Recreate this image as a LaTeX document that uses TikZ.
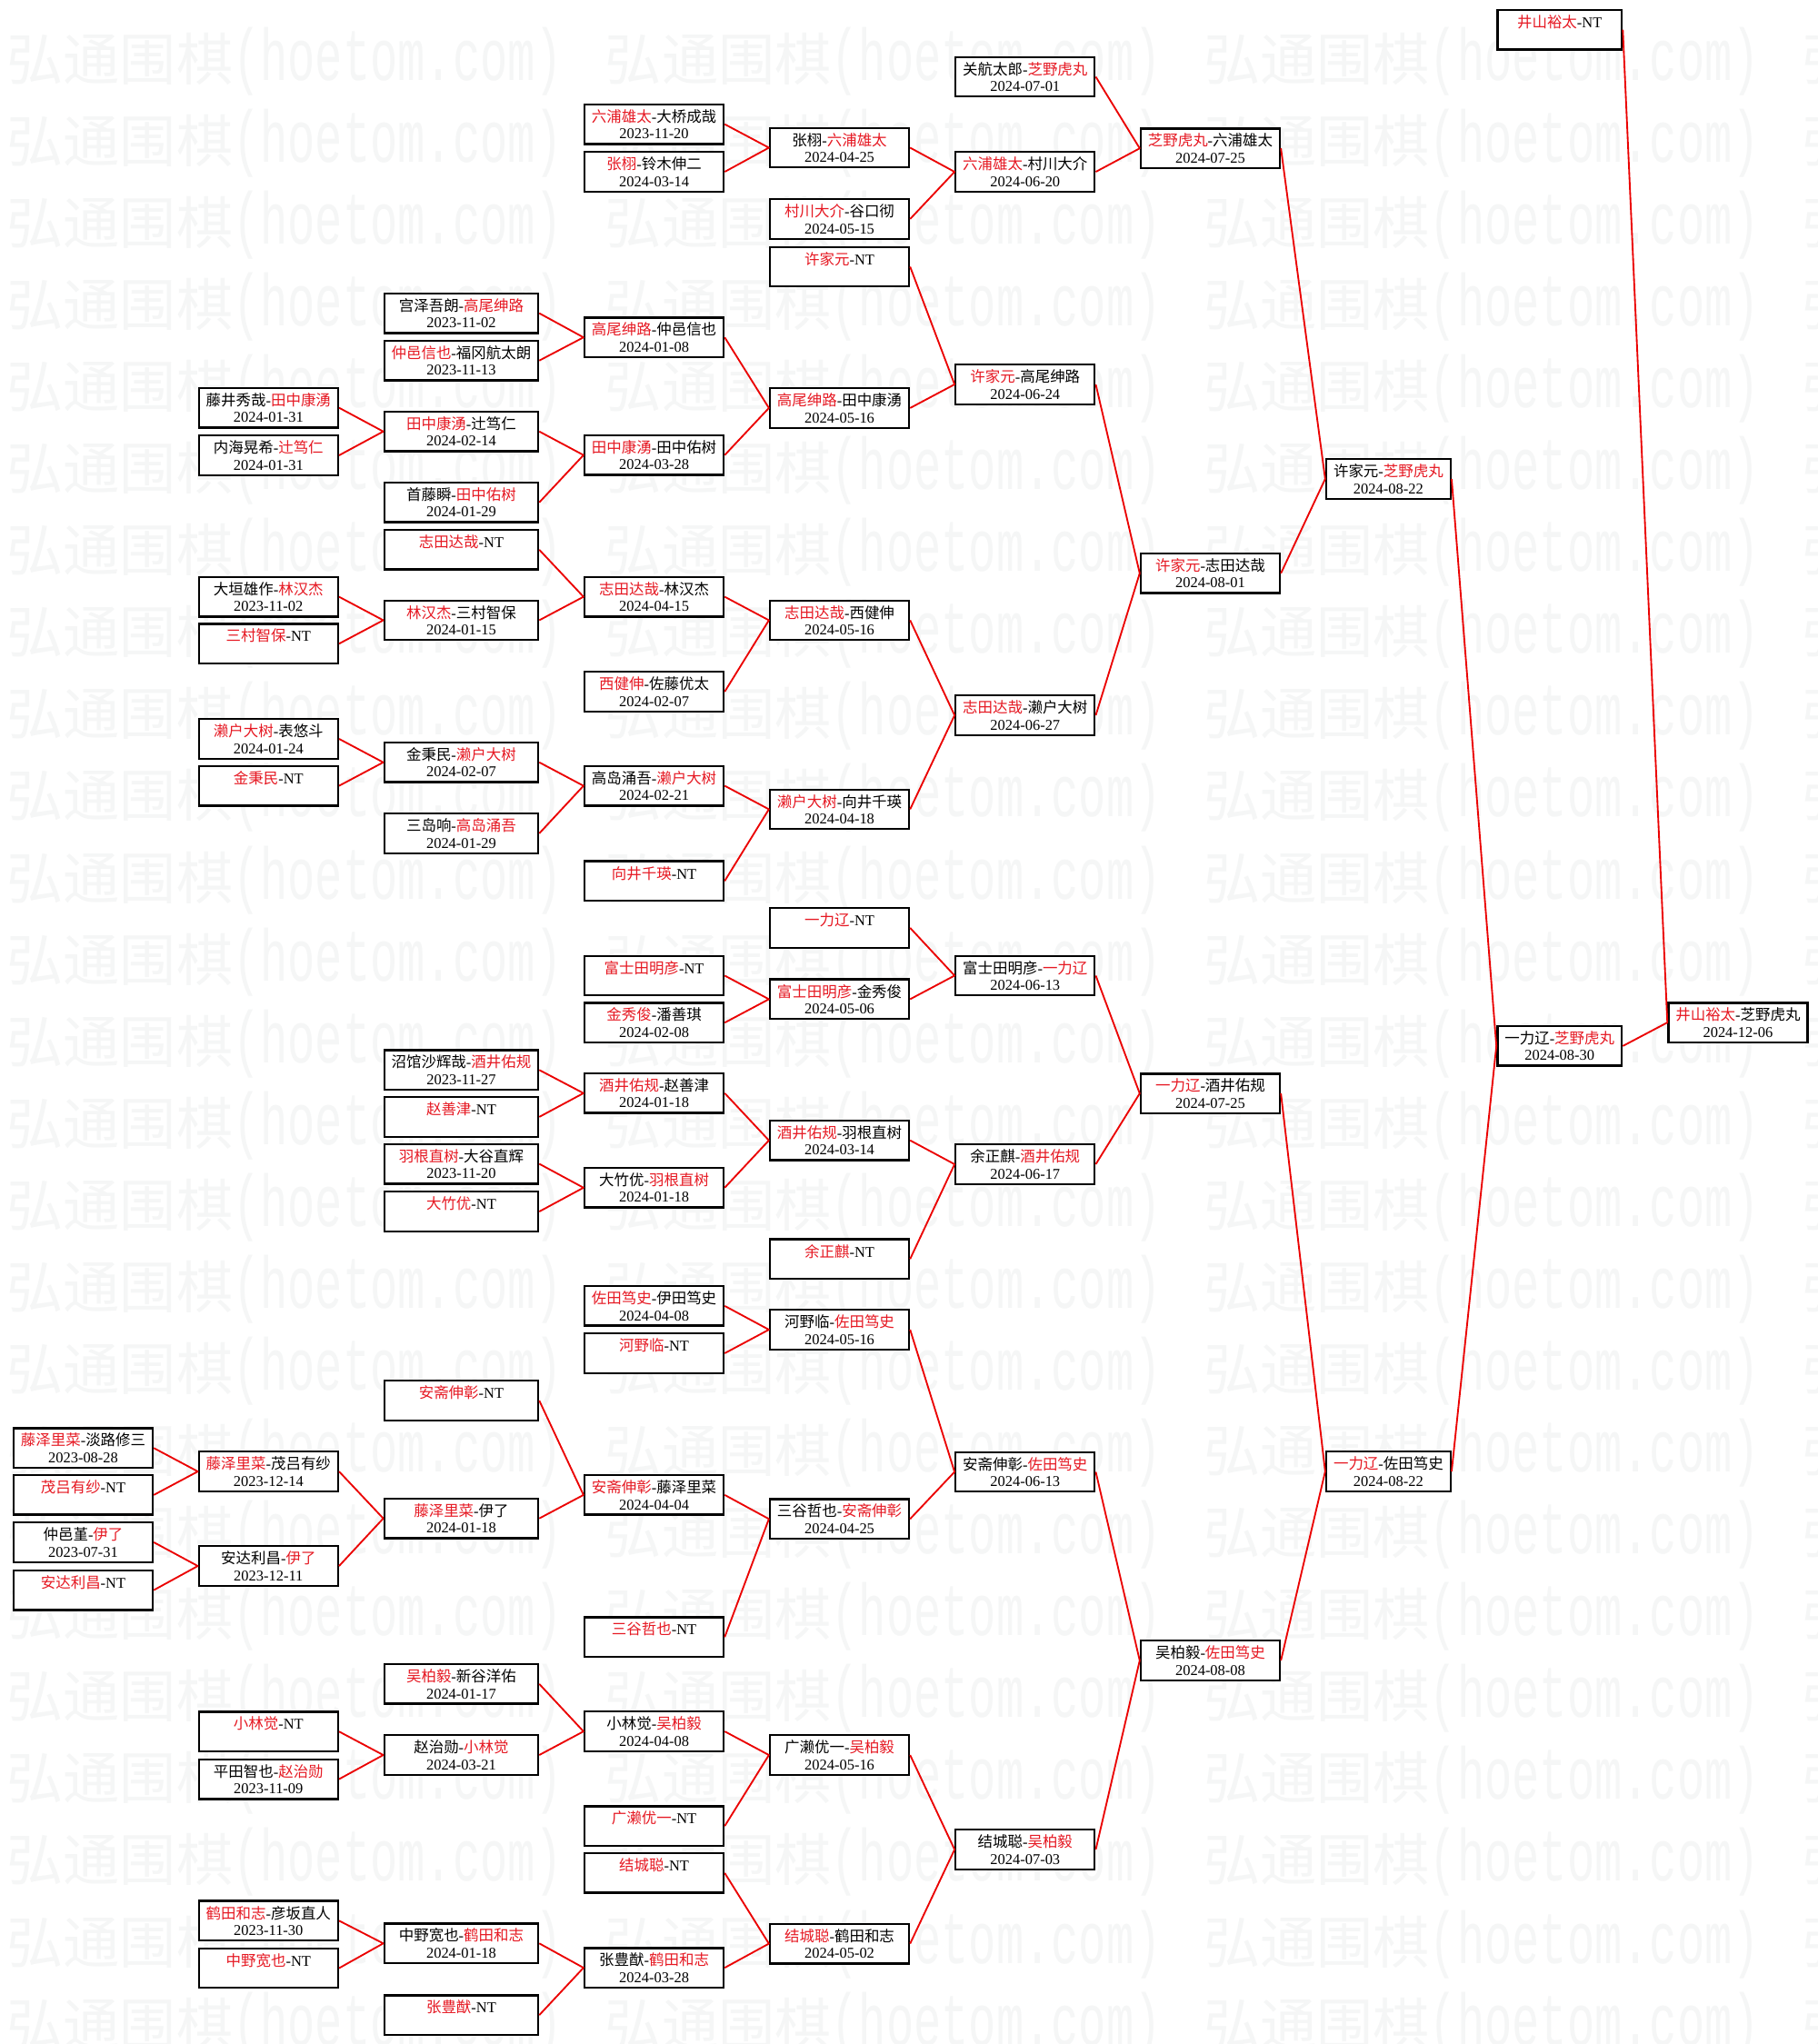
\documentclass[tikz,border=0pt]{standalone}
\usepackage{fontspec}
\usepackage{graphicx}
\setmainfont{Liberation Serif}
\newfontfamily\cjk{Noto Sans CJK SC}
\newfontfamily\wmlat{Liberation Mono}
\definecolor{winred}{RGB}{230,25,35}
\definecolor{linkred}{RGB}{235,0,0}
\definecolor{wmgray}{RGB}{245,246,246}
% first line of a box: winner in red
\newcommand\lw[2]{\textcolor{winred}{\cjk #1}-{\cjk #2}}
\newcommand\rw[2]{{\cjk #1}-\textcolor{winred}{\cjk #2}}
\newcommand\nt[1]{\textcolor{winred}{\cjk #1}-NT}
\tikzset{
  game/.style={draw=black,line width=1.4pt,fill=white,rectangle,inner sep=0pt,
    minimum width=32mm,text width=32mm,minimum height=9.1mm,align=center,
    font=\fontsize{9.8}{11}\selectfont},
  widegame/.style={game,minimum width=35.4mm,text width=35.4mm},
  slimgame/.style={game,minimum width=28.6mm,text width=28.6mm},
  link/.style={draw=linkred,line width=1.1pt,line join=round},
  wmark/.style={anchor=west,text=wmgray,inner sep=0pt,font=\cjk\fontsize{37}{37}\selectfont}
}
\begin{document}
\begin{tikzpicture}[x=0.3mm,y=-0.3mm]
    \fill[white] (0,0) rectangle (1394,1568);
    \useasboundingbox (0,0) rectangle (1394,1568);
    \begin{scope}
    \clip (0,0) rectangle (1394,1568);
    \foreach \j in {0,...,24} \foreach \i in {0,...,3}
      \node[wmark] (wm\i-\j) at ({5+459*\i},{47+62.8*\j}) {弘通围棋{\wmlat\fontsize{30}{30}\selectfont\scalebox{1}[1.6]{(hoetom.com)}}};
    \end{scope}
    % column A
    \node[game] (A1) at (63.8,1110.8) {\lw{藤泽里菜}{淡路修三}\\2023-08-28};
    \node[game] (A2) at (63.8,1146.8) {\nt{茂吕有纱}\\~};
    \node[game] (A3) at (63.8,1183.1) {\rw{仲邑堇}{伊了}\\2023-07-31};
    \node[game] (A4) at (63.8,1219.8) {\nt{安达利昌}\\~};
    % column B
    \node[game] (B1) at (205.9,312.8) {\rw{藤井秀哉}{田中康湧}\\2024-01-31};
    \node[game] (B2) at (205.9,349.3) {\rw{内海晃希}{辻笃仁}\\2024-01-31};
    \node[game] (B3) at (205.9,457.8) {\rw{大垣雄作}{林汉杰}\\2023-11-02};
    \node[game] (B4) at (205.9,493.8) {\nt{三村智保}\\~};
    \node[game] (B5) at (205.9,566.8) {\lw{濑户大树}{表悠斗}\\2024-01-24};
    \node[game] (B6) at (205.9,602.8) {\nt{金秉民}\\~};
    \node[game] (B7) at (205.9,1128.8) {\lw{藤泽里菜}{茂吕有纱}\\2023-12-14};
    \node[game] (B8) at (205.9,1201.3) {\rw{安达利昌}{伊了}\\2023-12-11};
    \node[game] (B9) at (205.9,1328.3) {\nt{小林觉}\\~};
    \node[game] (B10) at (205.9,1364.8) {\rw{平田智也}{赵治勋}\\2023-11-09};
    \node[game] (B11) at (205.9,1473.4) {\lw{鹤田和志}{彦坂直人}\\2023-11-30};
    \node[game] (B12) at (205.9,1509.8) {\nt{中野宽也}\\~};
    % column C
    \node[widegame] (C1) at (353.8,240.3) {\rw{宫泽吾朗}{高尾绅路}\\2023-11-02};
    \node[widegame] (C2) at (353.8,276.6) {\lw{仲邑信也}{福冈航太朗}\\2023-11-13};
    \node[widegame] (C3) at (353.8,331) {\lw{田中康湧}{辻笃仁}\\2024-02-14};
    \node[widegame] (C4) at (353.8,385.4) {\rw{首藤瞬}{田中佑树}\\2024-01-29};
    \node[widegame] (C5) at (353.8,421.7) {\nt{志田达哉}\\~};
    \node[widegame] (C6) at (353.8,475.8) {\lw{林汉杰}{三村智保}\\2024-01-15};
    \node[widegame] (C7) at (353.8,584.8) {\rw{金秉民}{濑户大树}\\2024-02-07};
    \node[widegame] (C8) at (353.8,639.3) {\rw{三岛响}{高岛涌吾}\\2024-01-29};
    \node[widegame] (C9) at (353.8,820.8) {\rw{沼馆沙辉哉}{酒井佑规}\\2023-11-27};
    \node[widegame] (C10) at (353.8,856.8) {\nt{赵善津}\\~};
    \node[widegame] (C11) at (353.8,892.8) {\lw{羽根直树}{大谷直辉}\\2023-11-20};
    \node[widegame] (C12) at (353.8,929.4) {\nt{大竹优}\\~};
    \node[widegame] (C13) at (353.8,1074.4) {\nt{安斋伸彰}\\~};
    \node[widegame] (C14) at (353.8,1164.8) {\lw{藤泽里菜}{伊了}\\2024-01-18};
    \node[widegame] (C15) at (353.8,1291.8) {\lw{吴柏毅}{新谷洋佑}\\2024-01-17};
    \node[widegame] (C16) at (353.8,1346.3) {\rw{赵治勋}{小林觉}\\2024-03-21};
    \node[widegame] (C17) at (353.8,1490.8) {\rw{中野宽也}{鹤田和志}\\2024-01-18};
    \node[widegame] (C18) at (353.8,1545.8) {\nt{张豊猷}\\~};
    % column D
    \node[game] (D1) at (501.7,95.3) {\lw{六浦雄太}{大桥成哉}\\2023-11-20};
    \node[game] (D2) at (501.7,131.8) {\lw{张栩}{铃木伸二}\\2024-03-14};
    \node[game] (D3) at (501.7,258.8) {\lw{高尾绅路}{仲邑信也}\\2024-01-08};
    \node[game] (D4) at (501.7,349.1) {\lw{田中康湧}{田中佑树}\\2024-03-28};
    \node[game] (D5) at (501.7,457.8) {\lw{志田达哉}{林汉杰}\\2024-04-15};
    \node[game] (D6) at (501.7,530.6) {\lw{西健伸}{佐藤优太}\\2024-02-07};
    \node[game] (D7) at (501.7,602.8) {\rw{高岛涌吾}{濑户大树}\\2024-02-21};
    \node[game] (D8) at (501.7,675.8) {\nt{向井千瑛}\\~};
    \node[game] (D9) at (501.7,748.4) {\nt{富士田明彦}\\~};
    \node[game] (D10) at (501.7,784.5) {\lw{金秀俊}{潘善琪}\\2024-02-08};
    \node[game] (D11) at (501.7,838.6) {\lw{酒井佑规}{赵善津}\\2024-01-18};
    \node[game] (D12) at (501.7,911.1) {\rw{大竹优}{羽根直树}\\2024-01-18};
    \node[game] (D13) at (501.7,1001.8) {\lw{佐田笃史}{伊田笃史}\\2024-04-08};
    \node[game] (D14) at (501.7,1038.1) {\nt{河野临}\\~};
    \node[game] (D15) at (501.7,1146.8) {\lw{安斋伸彰}{藤泽里菜}\\2024-04-04};
    \node[game] (D16) at (501.7,1255.8) {\nt{三谷哲也}\\~};
    \node[game] (D17) at (501.7,1328.2) {\rw{小林觉}{吴柏毅}\\2024-04-08};
    \node[game] (D18) at (501.7,1400.8) {\nt{广濑优一}\\~};
    \node[game] (D19) at (501.7,1436.8) {\nt{结城聪}\\~};
    \node[game] (D20) at (501.7,1509.5) {\rw{张豊猷}{鹤田和志}\\2024-03-28};
    % column E
    \node[game] (E1) at (643.9,113.3) {\rw{张栩}{六浦雄太}\\2024-04-25};
    \node[game] (E2) at (643.9,168) {\lw{村川大介}{谷口彻}\\2024-05-15};
    \node[game] (E3) at (643.9,204.6) {\nt{许家元}\\~};
    \node[game] (E4) at (643.9,313) {\lw{高尾绅路}{田中康湧}\\2024-05-16};
    \node[game] (E5) at (643.9,475.8) {\lw{志田达哉}{西健伸}\\2024-05-16};
    \node[game] (E6) at (643.9,620.8) {\lw{濑户大树}{向井千瑛}\\2024-04-18};
    \node[game] (E7) at (643.9,711.8) {\nt{一力辽}\\~};
    \node[game] (E8) at (643.9,766.5) {\lw{富士田明彦}{金秀俊}\\2024-05-06};
    \node[game] (E9) at (643.9,874.8) {\lw{酒井佑规}{羽根直树}\\2024-03-14};
    \node[game] (E10) at (643.9,965.8) {\nt{余正麒}\\~};
    \node[game] (E11) at (643.9,1020) {\rw{河野临}{佐田笃史}\\2024-05-16};
    \node[game] (E12) at (643.9,1165.2) {\rw{三谷哲也}{安斋伸彰}\\2024-04-25};
    \node[game] (E13) at (643.9,1346.3) {\rw{广濑优一}{吴柏毅}\\2024-05-16};
    \node[game] (E14) at (643.9,1491) {\lw{结城聪}{鹤田和志}\\2024-05-02};
    % column F
    \node[game] (F1) at (786.3,58.9) {\rw{关航太郎}{芝野虎丸}\\2024-07-01};
    \node[game] (F2) at (786.3,131.8) {\lw{六浦雄太}{村川大介}\\2024-06-20};
    \node[game] (F3) at (786.3,294.9) {\lw{许家元}{高尾绅路}\\2024-06-24};
    \node[game] (F4) at (786.3,548.7) {\lw{志田达哉}{濑户大树}\\2024-06-27};
    \node[game] (F5) at (786.3,748.4) {\rw{富士田明彦}{一力辽}\\2024-06-13};
    \node[game] (F6) at (786.3,893.1) {\rw{余正麒}{酒井佑规}\\2024-06-17};
    \node[game] (F7) at (786.3,1129.1) {\rw{安斋伸彰}{佐田笃史}\\2024-06-13};
    \node[game] (F8) at (786.3,1418.8) {\rw{结城聪}{吴柏毅}\\2024-07-03};
    % column G
    \node[game] (G1) at (928.3,113.8) {\lw{芝野虎丸}{六浦雄太}\\2024-07-25};
    \node[game] (G2) at (928.3,439.8) {\lw{许家元}{志田达哉}\\2024-08-01};
    \node[game] (G3) at (928.3,838.8) {\lw{一力辽}{酒井佑规}\\2024-07-25};
    \node[game] (G4) at (928.3,1273.8) {\rw{吴柏毅}{佐田笃史}\\2024-08-08};
    % columns H, I, J
    \node[slimgame] (H1) at (1064.9,367.4) {\rw{许家元}{芝野虎丸}\\2024-08-22};
    \node[slimgame] (H2) at (1064.9,1128.8) {\lw{一力辽}{佐田笃史}\\2024-08-22};
    \node[slimgame] (I1) at (1196.2,22.8) {\nt{井山裕太}\\~};
    \node[slimgame] (I2) at (1196.2,802.4) {\rw{一力辽}{芝野虎丸}\\2024-08-30};
    \node[game] (J1) at (1333,784.4) {\lw{井山裕太}{芝野虎丸}\\2024-12-06};
    % links
    \draw[link] (A1.east) -- (B7.west) -- (A2.east);
    \draw[link] (A3.east) -- (B8.west) -- (A4.east);
    \draw[link] (B1.east) -- (C3.west) -- (B2.east);
    \draw[link] (B3.east) -- (C6.west) -- (B4.east);
    \draw[link] (B5.east) -- (C7.west) -- (B6.east);
    \draw[link] (B7.east) -- (C14.west) -- (B8.east);
    \draw[link] (B9.east) -- (C16.west) -- (B10.east);
    \draw[link] (B11.east) -- (C17.west) -- (B12.east);
    \draw[link] (C1.east) -- (D3.west) -- (C2.east);
    \draw[link] (C3.east) -- (D4.west) -- (C4.east);
    \draw[link] (C5.east) -- (D5.west) -- (C6.east);
    \draw[link] (C7.east) -- (D7.west) -- (C8.east);
    \draw[link] (C9.east) -- (D11.west) -- (C10.east);
    \draw[link] (C11.east) -- (D12.west) -- (C12.east);
    \draw[link] (C13.east) -- (D15.west) -- (C14.east);
    \draw[link] (C15.east) -- (D17.west) -- (C16.east);
    \draw[link] (C17.east) -- (D20.west) -- (C18.east);
    \draw[link] (D1.east) -- (E1.west) -- (D2.east);
    \draw[link] (D3.east) -- (E4.west) -- (D4.east);
    \draw[link] (D5.east) -- (E5.west) -- (D6.east);
    \draw[link] (D7.east) -- (E6.west) -- (D8.east);
    \draw[link] (D9.east) -- (E8.west) -- (D10.east);
    \draw[link] (D11.east) -- (E9.west) -- (D12.east);
    \draw[link] (D13.east) -- (E11.west) -- (D14.east);
    \draw[link] (D15.east) -- (E12.west) -- (D16.east);
    \draw[link] (D17.east) -- (E13.west) -- (D18.east);
    \draw[link] (D19.east) -- (E14.west) -- (D20.east);
    \draw[link] (E1.east) -- (F2.west) -- (E2.east);
    \draw[link] (E3.east) -- (F3.west) -- (E4.east);
    \draw[link] (E5.east) -- (F4.west) -- (E6.east);
    \draw[link] (E7.east) -- (F5.west) -- (E8.east);
    \draw[link] (E9.east) -- (F6.west) -- (E10.east);
    \draw[link] (E11.east) -- (F7.west) -- (E12.east);
    \draw[link] (E13.east) -- (F8.west) -- (E14.east);
    \draw[link] (F1.east) -- (G1.west) -- (F2.east);
    \draw[link] (F3.east) -- (G2.west) -- (F4.east);
    \draw[link] (F5.east) -- (G3.west) -- (F6.east);
    \draw[link] (F7.east) -- (G4.west) -- (F8.east);
    \draw[link] (G1.east) -- (H1.west) -- (G2.east);
    \draw[link] (G3.east) -- (H2.west) -- (G4.east);
    \draw[link] (H1.east) -- (I2.west) -- (H2.east);
    \draw[link] (I1.east) -- (J1.west) -- (I2.east);
\end{tikzpicture}
\end{document}
